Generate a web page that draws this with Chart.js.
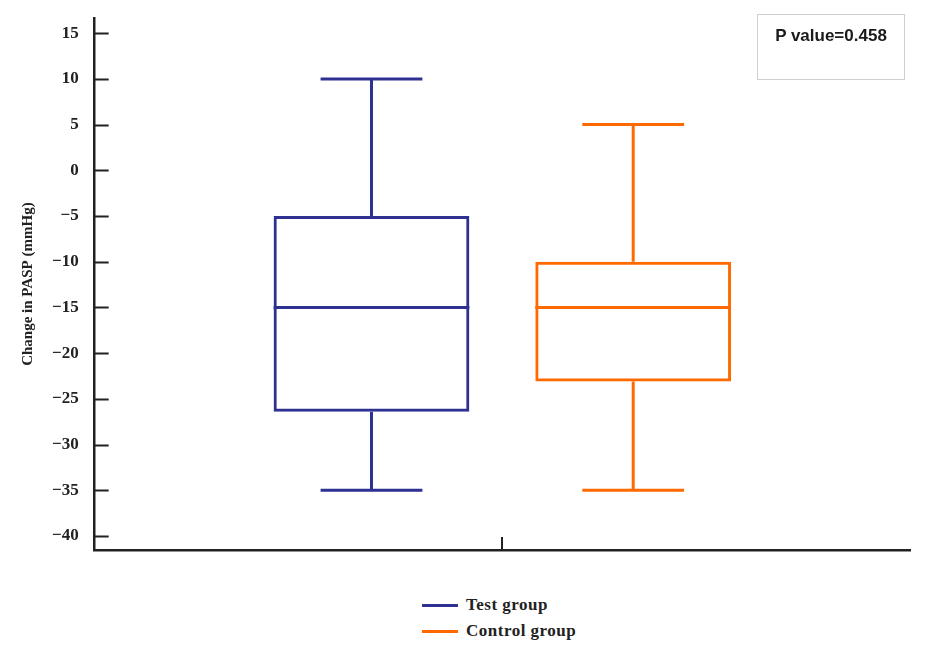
<!DOCTYPE html>
<html>
<head>
<meta charset="utf-8">
<script src="https://cdn.jsdelivr.net/npm/chart.js"></script>
<style>
  body { margin: 0; background: #fff; }
  #wrap { position: relative; width: 931px; height: 646px; }
  #chartBox { position: absolute; left: 0; top: 0; width: 931px; height: 570px; }
  #pvalue {
    position: absolute; left: 757px; top: 14px; width: 148px; height: 66px;
    border: 1px solid #cfcfcf; box-sizing: border-box;
    font: bold 17px "Liberation Sans", Arial, sans-serif; color: #1a1a1a;
    text-align: center; padding-top: 11px;
  }
  #legend { position: absolute; left: 422px; top: 592px; }
  #legend div { display: flex; align-items: center; height: 26px; }
  #legend span.line { display: inline-block; width: 36px; height: 3px; margin-right: 8px; }
  #legend span.txt { font: bold 17px "Liberation Serif", "Times New Roman", serif; color: #222; letter-spacing: 0.5px; }
</style>
</head>
<body>
<div id="wrap">
  <div id="chartBox"><canvas id="box"></canvas></div>
  <div id="pvalue">P value=0.458</div>
  <div id="legend"></div>
</div>
<script>
// Données
const groups = ["Test group", "Control group"];
const colors = ["#2E3192", "#FF6A00"];
const whiskerMin = [-35, -35];
const q1 = [-26.4, -23.1];
const median = [-15, -15];
const q3 = [-5, -10];
const whiskerMax = [10, 5];
const yTicks = [-40, -35, -30, -25, -20, -15, -10, -5, 0, 5, 10, 15];

const axisColor = "#222";

// Moustaches, médianes et petites graduations intérieures
const boxPlugin = {
  id: "boxWhiskers",
  afterDatasetsDraw(chart) {
    const ctx = chart.ctx;
    const y = chart.scales.y;
    chart.data.datasets.forEach((ds, i) => {
      const bar = chart.getDatasetMeta(i).data[0];
      const half = bar.width / 2;
      const cap = bar.width * 0.26;
      const yMed = y.getPixelForValue(median[i]);
      const yQ1 = y.getPixelForValue(q1[i]);
      const yQ3 = y.getPixelForValue(q3[i]);
      const yMin = y.getPixelForValue(whiskerMin[i]);
      const yMax = y.getPixelForValue(whiskerMax[i]);
      ctx.save();
      ctx.strokeStyle = ds.borderColor;
      ctx.lineWidth = 3;
      ctx.beginPath();
      // médiane
      ctx.moveTo(bar.x - half, yMed); ctx.lineTo(bar.x + half, yMed);
      // moustache haute
      ctx.moveTo(bar.x, yQ3); ctx.lineTo(bar.x, yMax);
      ctx.moveTo(bar.x - cap, yMax); ctx.lineTo(bar.x + cap, yMax);
      // moustache basse
      ctx.moveTo(bar.x, yQ1); ctx.lineTo(bar.x, yMin);
      ctx.moveTo(bar.x - cap, yMin); ctx.lineTo(bar.x + cap, yMin);
      ctx.stroke();
      ctx.restore();
    });
  },
  afterDraw(chart) {
    const ctx = chart.ctx;
    const area = chart.chartArea;
    const y = chart.scales.y;
    const x = chart.scales.x;
    ctx.save();
    ctx.strokeStyle = axisColor;
    ctx.lineWidth = 2;
    ctx.beginPath();
    yTicks.forEach(v => {
      const py = Math.round(y.getPixelForValue(v)) + 0.5;
      ctx.moveTo(area.left, py); ctx.lineTo(area.left + 14, py);
    });
    const px = Math.round(x.getPixelForValue(0));
    ctx.moveTo(px, area.bottom); ctx.lineTo(px, area.bottom - 13);
    ctx.stroke();
    ctx.restore();
  }
};

const datasets = groups.map((g, i) => ({
  label: g,
  data: [[q1[i], q3[i]]],
  backgroundColor: "rgba(255,255,255,0)",
  borderColor: colors[i],
  borderWidth: 3,
  borderSkipped: false,
  categoryPercentage: 0.642,
  barPercentage: 0.748
}));

const boxChart = new Chart(document.getElementById("box").getContext("2d"), {
  type: "bar",
  data: { labels: [""], datasets: datasets },
  options: {
    responsive: true,
    maintainAspectRatio: false,
    animation: false,
    layout: { padding: { left: 19, right: 21, top: 10, bottom: 12 } },
    plugins: {
      legend: { display: false },
      tooltip: { enabled: false }
    },
    scales: {
      x: {
        grid: { display: false },
        ticks: { display: false },
        border: { display: true, color: axisColor, width: 2.5 }
      },
      y: {
        min: -41.53,
        max: 16.64,
        afterBuildTicks: scale => { scale.ticks = yTicks.map(v => ({ value: v })); },
        grid: { display: false },
        border: { display: true, color: axisColor, width: 2.5 },
        ticks: {
          padding: 8,
          color: axisColor,
          font: { family: "Liberation Serif", size: 17, weight: "bold" },
          callback: v => String(v).replace("-", "\u2212")
        },
        title: {
          display: true,
          text: "Change in PASP (mmHg)",
          color: axisColor,
          font: { family: "Liberation Serif", size: 15, weight: "bold" },
          padding: { top: 0, bottom: 7 }
        }
      }
    }
  },
  plugins: [boxPlugin]
});

// Légende HTML empilée verticalement
const legendEl = document.getElementById("legend");
boxChart.data.datasets.forEach(ds => {
  const row = document.createElement("div");
  row.innerHTML = '<span class="line" style="background:' + ds.borderColor + '"></span><span class="txt">' + ds.label + '</span>';
  legendEl.appendChild(row);
});
</script>
</body>
</html>
